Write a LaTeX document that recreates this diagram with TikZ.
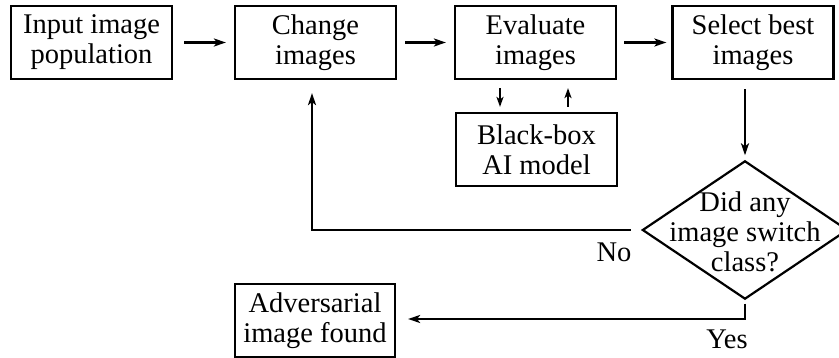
\documentclass[tikz,border=0pt]{standalone}
\usepackage{fontspec}
\setmainfont{Liberation Serif}
\usetikzlibrary{arrows.meta,calc}
\begin{document}
\begin{tikzpicture}[x=1pt,y=-1pt,
  box/.style={draw,line width=2.2pt,minimum width=161pt,minimum height=73pt,inner sep=0pt,align=center,font=\fontsize{28.5}{30}\selectfont},
  lbl/.style={inner sep=0pt,font=\fontsize{28.5}{30}\selectfont},
  arr/.style={line width=2.2pt,-{Stealth[length=12pt,width=8pt,inset=3pt]}},
  sarr/.style={line width=2.2pt,-{Stealth[length=10pt,width=7pt,inset=2.5pt]}}]
\useasboundingbox (0,0) rectangle (839,358);
\node[box] (in) at (91.5,42.5) {Input image\\population};
\node[box] (change) at (315.5,42.5) {Change\\images};
\node[box] (eval) at (535.5,42.5) {Evaluate\\images};
\node[box] (select) at (753,42.5) {Select best\\images};
\node[box] (bb) at (536.5,149.5) {Black-box\\AI model};
\node[box,minimum width=160pt] (adv) at (315,320.5) {Adversarial\\image found};
\node[minimum width=204pt,minimum height=137pt,inner sep=0pt] (dia) at (745,230) {};
\draw[line width=2.2pt,line join=miter] (dia.north) -- (dia.east) -- (dia.south) -- (dia.west) -- cycle;
\node[lbl,align=center] (diat) at (745,232) {Did any\\image switch\\class?};
\draw[arr,shorten <=11pt,shorten >=8pt] (in.east) -- (change.west);
\draw[arr,shorten <=8pt,shorten >=8pt] (change.east) -- (eval.west);
\draw[arr,shorten <=7pt,shorten >=5pt] (eval.east) -- (select.west);
\draw[sarr] ([xshift=-35.5pt,yshift=-8pt]eval.south) -- ([xshift=-36.5pt,yshift=5pt]bb.north);
\draw[sarr] ([xshift=31.5pt,yshift=5pt]bb.north) -- ([xshift=32.5pt,yshift=-8pt]eval.south);
\draw[arr] ([xshift=-8pt,yshift=-9pt]select.south) -- ([yshift=6pt]dia.north);
\draw[arr] ([xshift=-12pt]dia.west) -| ([xshift=-3.5pt,yshift=-13pt]change.south);
\draw[arr,shorten >=12pt] ([yshift=-5pt]dia.south) |- ([yshift=1.5pt]adv.east);
\node[lbl] (no) at (614,252) {No};
\node[lbl] (yes) at (727,339) {Yes};
\end{tikzpicture}
\end{document}
